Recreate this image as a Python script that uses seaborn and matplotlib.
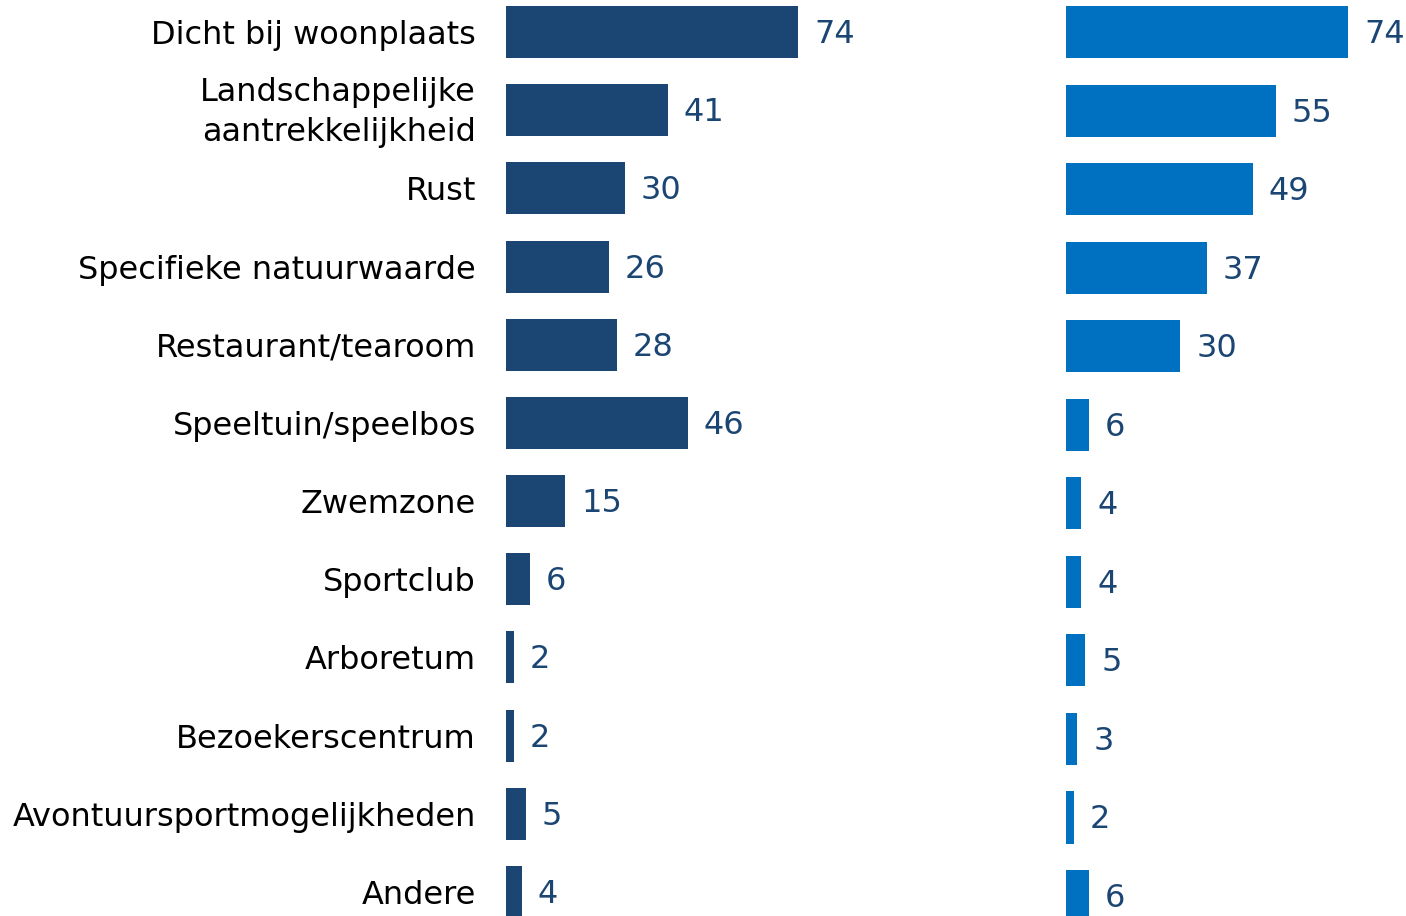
import matplotlib
matplotlib.use("Agg")
import matplotlib.pyplot as plt
import matplotlib.transforms as mtransforms
import pandas as pd
import seaborn as sns

# ── Data ──────────────────────────────────────────────────────────────────────

categories = [
    "Dicht bij woonplaats",
    "Landschappelijke\naantrekkelijkheid",
    "Rust",
    "Specifieke natuurwaarde",
    "Restaurant/tearoom",
    "Speeltuin/speelbos",
    "Zwemzone",
    "Sportclub",
    "Arboretum",
    "Bezoekerscentrum",
    "Avontuursportmogelijkheden",
    "Andere",
]
left_values  = [74, 41, 30, 26, 28, 46, 15, 6, 2, 2, 5, 4]
right_values = [74, 55, 49, 37, 30, 6, 4, 4, 5, 3, 2, 6]

NAVY = "#1b4572"
BLUE = "#0070c0"

# ── Figure ────────────────────────────────────────────────────────────────────

sns.set_theme(style="white")
plt.rcParams["font.family"] = ["DejaVu Sans"]

W, H = 1406, 916
fig = plt.figure(figsize=(W / 100, H / 100), dpi=100)

ax_l = fig.add_axes([506 / W, 0, 500 / W, 1])
ax_r = fig.add_axes([1066 / W, 0, 340 / W, 1])

df_l = pd.DataFrame({"cat": categories, "val": left_values})
df_r = pd.DataFrame({"cat": categories, "val": right_values})

sns.barplot(data=df_l, x="val", y="cat", color=NAVY, saturation=1,
            width=0.665, linewidth=0, ax=ax_l)
sns.barplot(data=df_r, x="val", y="cat", color=BLUE, saturation=1,
            width=0.662, linewidth=0, ax=ax_r)


def style_panel(ax, values, px_per_unit, axis_px, pitch, show_labels):
    ax.set_xlim(0, axis_px / px_per_unit)
    ax.set_ylim((H - 32) / pitch, -32 / pitch)
    ax.set_xlabel("")
    ax.set_ylabel("")
    ax.set_xticks([])
    for s in ax.spines.values():
        s.set_visible(False)
    ax.patch.set_alpha(0)
    if show_labels:
        ax.tick_params(axis="y", length=0, pad=21.6, labelsize=23,
                       labelcolor="black")
        shift_up = mtransforms.ScaledTranslation(0, 6 / 100, fig.dpi_scale_trans)
        for lbl in ax.get_yticklabels():
            lbl.set_linespacing(1.4)
            if "\n" in lbl.get_text():
                lbl.set_transform(lbl.get_transform() + shift_up)
    else:
        ax.set_yticks([])
    gap = 16 / px_per_unit
    for i, v in enumerate(values):
        ax.text(v + gap, i + 2.5 / pitch, str(v), ha="left", va="center",
                color=NAVY, fontsize=23, clip_on=False)


style_panel(ax_l, left_values, 3.95, 500, 78.18, True)
style_panel(ax_r, right_values, 3.81, 340, 78.55, False)

fig.savefig("out.png", dpi=100)
